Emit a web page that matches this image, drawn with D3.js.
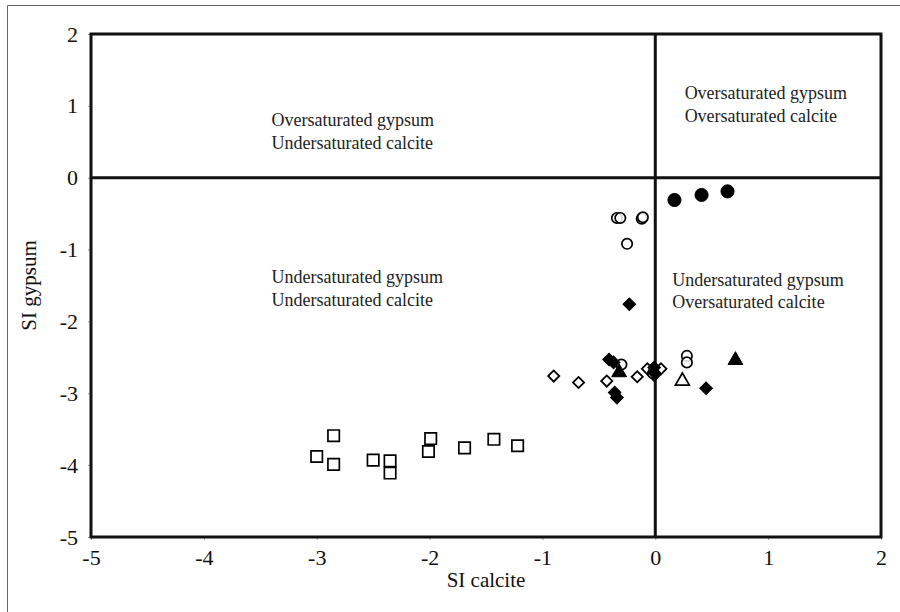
<!DOCTYPE html>
<html>
<head>
<meta charset="utf-8">
<script src="https://cdn.jsdelivr.net/npm/d3@7"></script>
<style>
    body { margin: 0; background: #fff; }
    svg { display: block; font-family: "Liberation Serif", serif; }
</style>
</head>
<body>
<svg width="900" height="612"></svg>
<script>
// SI calcite vs SI gypsum
const squaresOpen = [
    [-2.85, -3.59], [-3.00, -3.88], [-2.85, -3.99], [-2.50, -3.93], [-2.35, -3.94],
    [-2.35, -4.11], [-1.99, -3.63], [-2.01, -3.81], [-1.69, -3.76], [-1.43, -3.64], [-1.22, -3.73]
];
const circlesOpen = [
    [-0.34, -0.56], [-0.31, -0.56], [-0.12, -0.57], [-0.11, -0.55], [-0.25, -0.92],
    [-0.30, -2.60], [-0.02, -2.72], [0.28, -2.48], [0.28, -2.57]
];
const circlesFilled = [[0.17, -0.31], [0.41, -0.24], [0.64, -0.19]];
const diamondsOpen = [
    [-0.90, -2.76], [-0.68, -2.85], [-0.43, -2.83], [-0.16, -2.77], [-0.07, -2.66],
    [0.05, -2.66], [-0.01, -2.75]
];
const diamondsFilled = [
    [-0.23, -1.76], [0.45, -2.93], [-0.41, -2.53], [-0.37, -2.57], [-0.36, -2.99],
    [-0.34, -3.06], [-0.01, -2.64], [-0.01, -2.71]
];
const trianglesFilled = [[0.71, -2.54], [-0.32, -2.71]];
const trianglesOpen = [[0.24, -2.83]];

const xTicks = [-5, -4, -3, -2, -1, 0, 1, 2];
const yTicks = [2, 1, 0, -1, -2, -3, -4, -5];

const quadrantLabels = [
    { x: -3.4, y: 0.72, lines: ["Oversaturated gypsum", "Undersaturated calcite"] },
    { x: 0.26, y: 1.10, lines: ["Oversaturated gypsum", "Oversaturated calcite"] },
    { x: -3.4, y: -1.47, lines: ["Undersaturated gypsum", "Undersaturated calcite"] },
    { x: 0.15, y: -1.50, lines: ["Undersaturated gypsum", "Oversaturated calcite"] }
];

const svg = d3.select("svg");
const margin = { left: 91, right: 19, top: 34, bottom: 75 };
const W = 900, H = 612;

const x = d3.scaleLinear().domain([-5, 2]).range([margin.left, W - margin.right]);
const y = d3.scaleLinear().domain([-5, 2]).range([H - margin.bottom, margin.top]);

// outer frame
svg.append("path")
    .attr("d", "M7.5,612 V5.5 H900")
    .attr("fill", "none")
    .attr("stroke", "#666")
    .attr("stroke-width", 1);

// axes
const xAxis = svg.append("g")
    .attr("transform", `translate(0,${y(-5)})`)
    .call(d3.axisBottom(x).tickValues(xTicks).tickSize(3).tickPadding(5).tickFormat(d => String(d)));
const yAxis = svg.append("g")
    .attr("transform", `translate(${x(-5)},0)`)
    .call(d3.axisLeft(y).tickValues(yTicks).tickSize(3).tickPadding(10).tickFormat(d => String(d)));

[xAxis, yAxis].forEach(g => {
    g.select(".domain").remove();
    g.selectAll(".tick line").attr("stroke", "#999");
    g.selectAll(".tick text")
        .attr("fill", "#111")
        .style("font-family", "'Liberation Serif', serif")
        .style("font-size", "22px");
});
xAxis.selectAll(".tick text").attr("dy", "0.9em");

// plot box and zero lines
svg.append("rect")
    .attr("x", x(-5)).attr("y", y(2))
    .attr("width", x(2) - x(-5)).attr("height", y(-5) - y(2))
    .attr("fill", "none").attr("stroke", "#111").attr("stroke-width", 3);
svg.append("line")
    .attr("x1", x(-5)).attr("x2", x(2)).attr("y1", y(0)).attr("y2", y(0))
    .attr("stroke", "#111").attr("stroke-width", 3);
svg.append("line")
    .attr("x1", x(0)).attr("x2", x(0)).attr("y1", y(2)).attr("y2", y(-5))
    .attr("stroke", "#111").attr("stroke-width", 3);

// quadrant labels
quadrantLabels.forEach(q => {
    const t = svg.append("text")
        .attr("x", x(q.x)).attr("y", y(q.y))
        .attr("fill", "#222")
        .style("font-family", "'Liberation Serif', serif")
        .style("font-size", "18px");
    q.lines.forEach((l, i) => {
        t.append("tspan").attr("x", x(q.x)).attr("dy", i === 0 ? 0 : "1.27em").text(l);
    });
});

// axis titles
svg.append("text")
    .attr("x", x(-1.5)).attr("y", 587)
    .attr("text-anchor", "middle")
    .attr("fill", "#111")
    .style("font-family", "'Liberation Serif', serif")
    .style("font-size", "21px")
    .text("SI calcite");
svg.append("text")
    .attr("transform", `translate(36,${y(-1.5)}) rotate(-90)`)
    .attr("text-anchor", "middle")
    .attr("fill", "#111")
    .style("font-family", "'Liberation Serif', serif")
    .style("font-size", "21px")
    .text("SI gypsum");

// markers
function drawSeries(data, type, size, filled, rotate, sw) {
    svg.append("g")
        .selectAll("path")
        .data(data)
        .join("path")
        .attr("d", d3.symbol().type(type).size(size))
        .attr("transform", d => `translate(${x(d[0])},${y(d[1])}) rotate(${rotate})`)
        .attr("fill", filled ? "#000" : "#fff")
        .attr("fill-opacity", filled ? 1 : 0.85)
        .attr("stroke", "#000")
        .attr("stroke-width", sw);
}

drawSeries(squaresOpen, d3.symbolSquare, 130, false, 0, 1.7);
drawSeries(diamondsOpen, d3.symbolSquare, 62, false, 45, 1.8);
drawSeries(circlesOpen, d3.symbolCircle, 85, false, 0, 1.7);
drawSeries(trianglesOpen, d3.symbolTriangle, 85, false, 0, 1.7);
drawSeries(diamondsFilled, d3.symbolSquare, 80, true, 45, 1);
drawSeries(circlesFilled, d3.symbolCircle, 135, true, 0, 1);
drawSeries(trianglesFilled, d3.symbolTriangle, 95, true, 0, 1);
</script>
</body>
</html>
